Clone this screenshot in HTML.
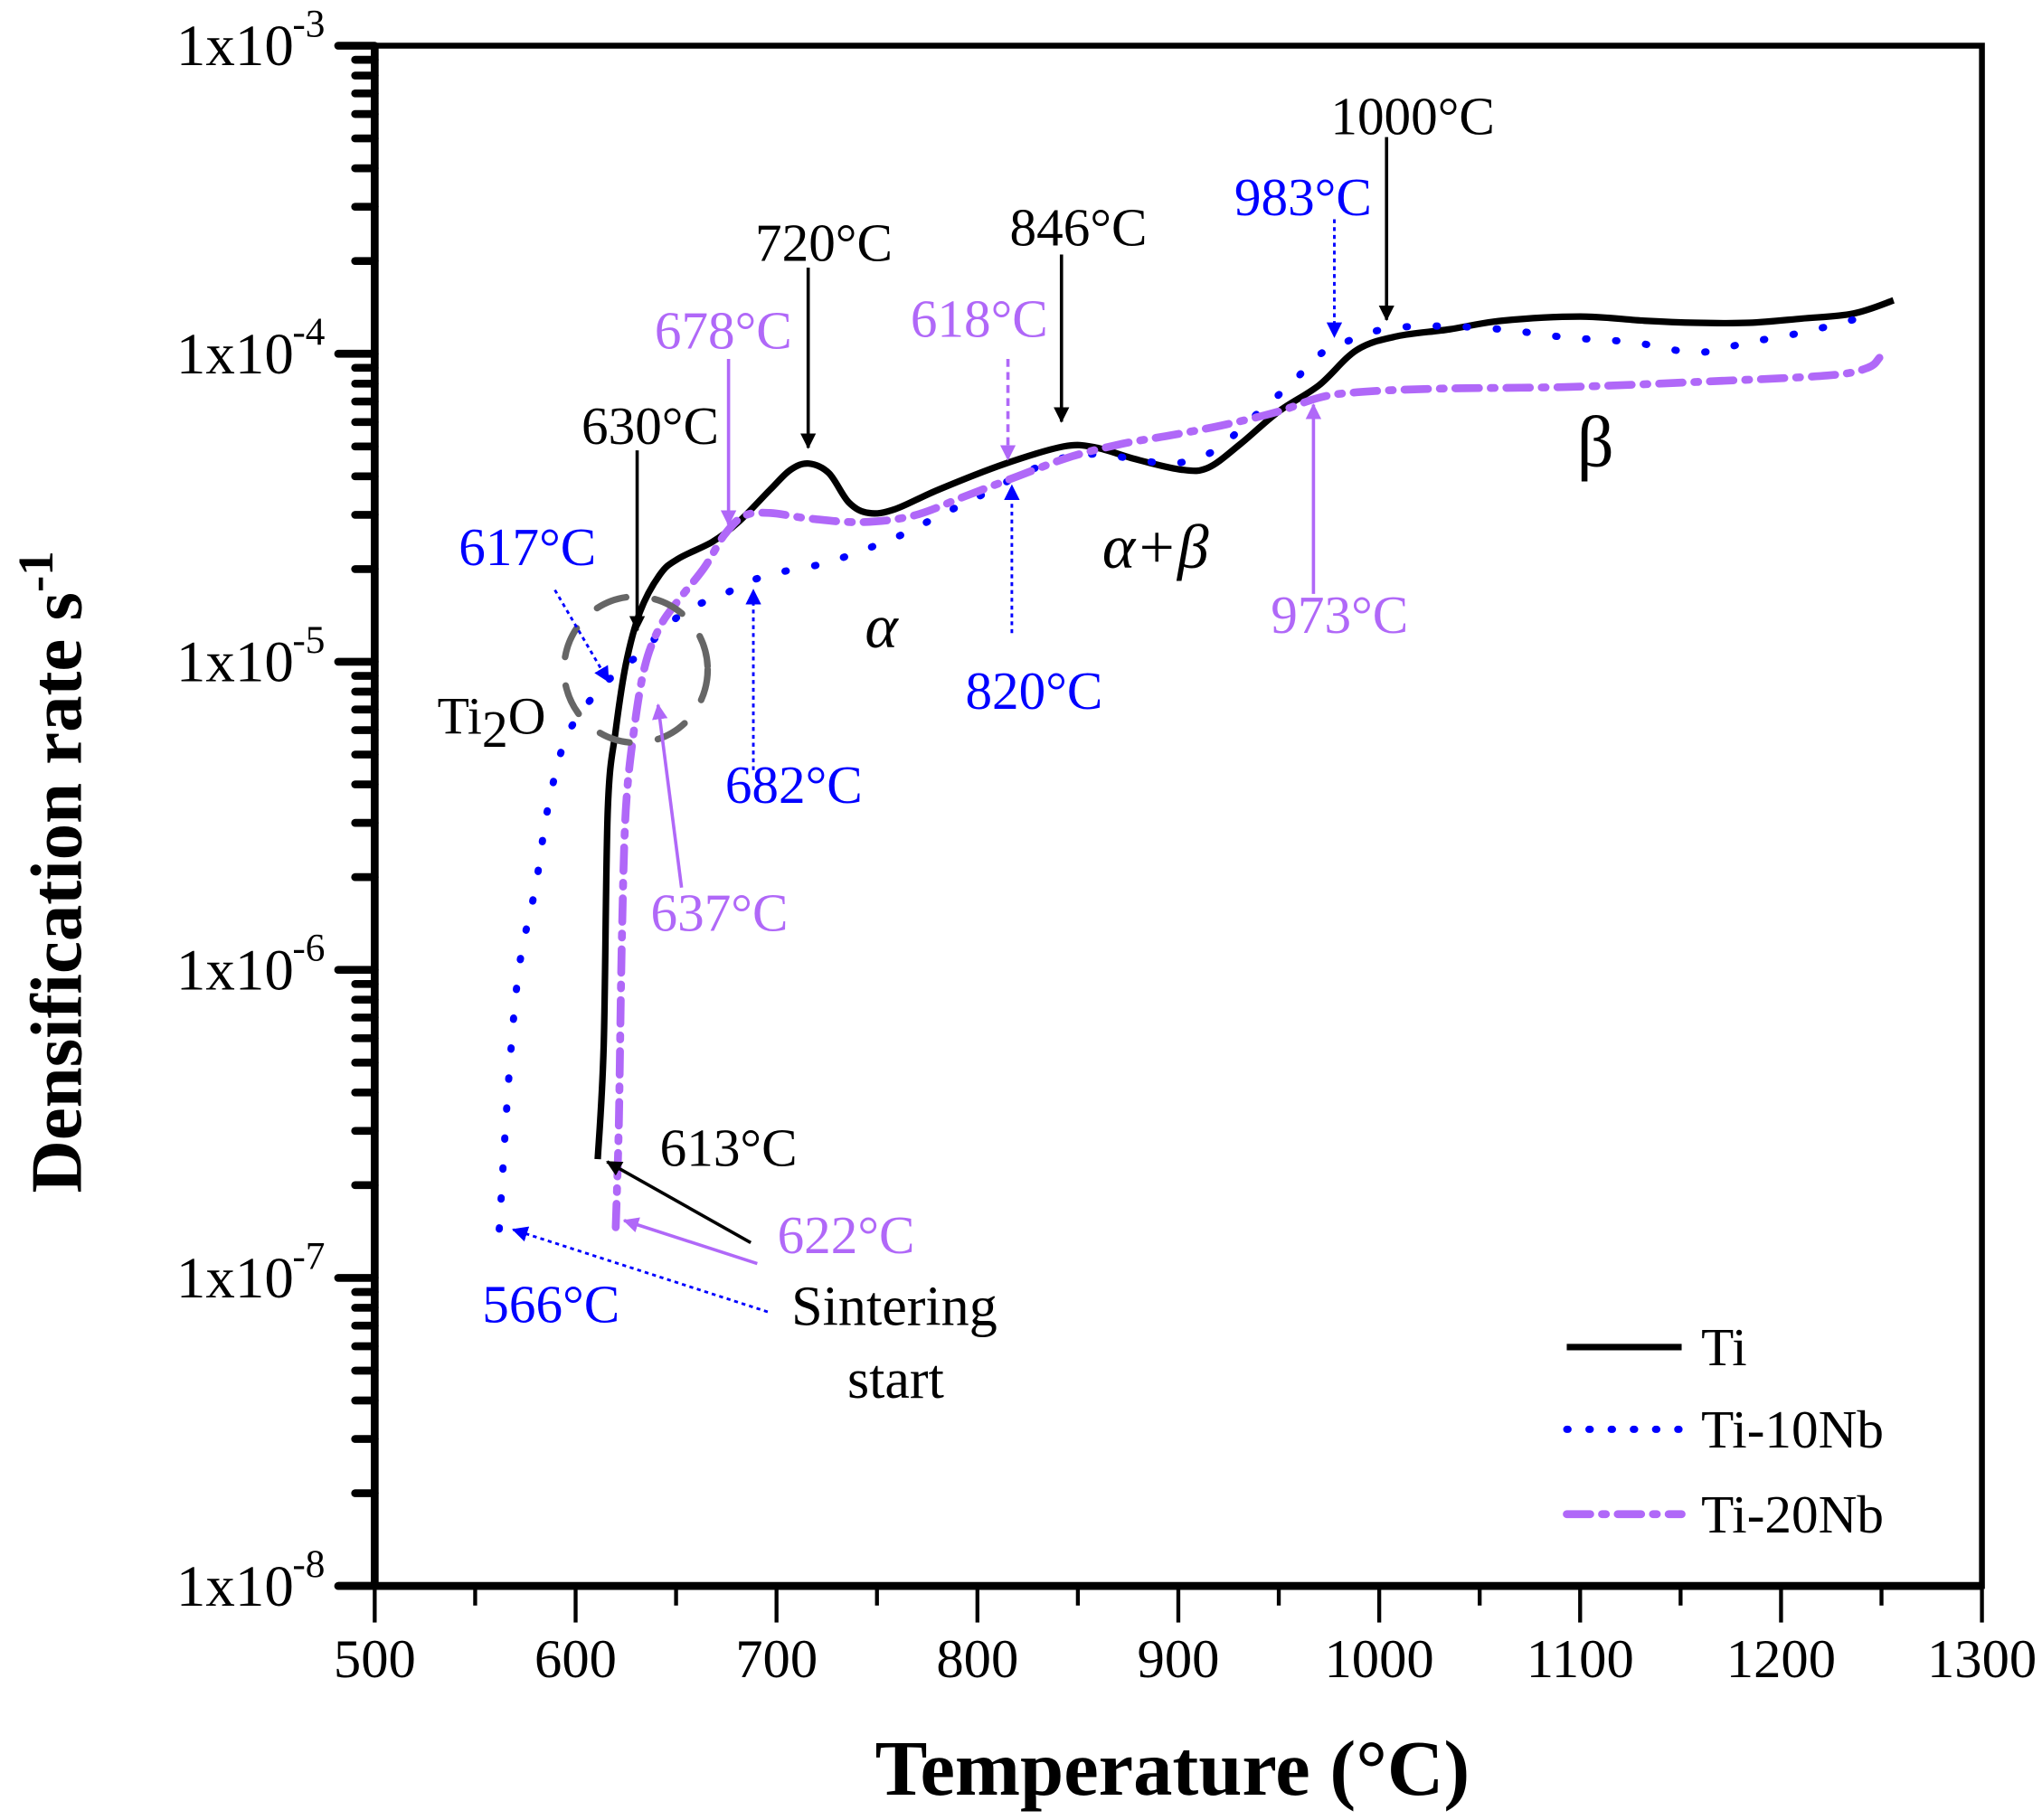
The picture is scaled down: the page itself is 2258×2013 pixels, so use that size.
<!DOCTYPE html>
<html><head><meta charset="utf-8">
<style>
html,body{margin:0;padding:0;background:#fff;}
svg{display:block;}
text{font-family:"Liberation Serif","DejaVu Serif",serif;}
</style></head>
<body>
<svg id="chart" xmlns="http://www.w3.org/2000/svg" width="2258" height="2013" viewBox="0 0 1564 1394.3">
<defs>
<marker id="ahK" markerWidth="12" markerHeight="12" refX="11" refY="6" orient="auto" markerUnits="userSpaceOnUse"><path d="M0,0 L12,6 L0,12 z" fill="#000"/></marker>
<marker id="ahB" markerWidth="12" markerHeight="12" refX="11" refY="6" orient="auto" markerUnits="userSpaceOnUse"><path d="M0,0 L12,6 L0,12 z" fill="#0000ff"/></marker>
<marker id="ahP" markerWidth="12" markerHeight="12" refX="11" refY="6" orient="auto" markerUnits="userSpaceOnUse"><path d="M0,0 L12,6 L0,12 z" fill="#b068f8"/></marker>
</defs>
<g id="axes"></g>
<g id="series"></g>
<g id="annot">
<ellipse cx="487" cy="513" rx="55" ry="56" fill="none" stroke="#666" stroke-width="5" stroke-dasharray="24 22" stroke-linecap="round"/>
<text x="335" y="562" font-size="40">Ti<tspan dy="10">2</tspan><tspan dy="-10">O</tspan></text>
</g>
<g id="legend"></g>
</svg>
<script>
const NS='http://www.w3.org/2000/svg';
const tempTicks=[500,600,700,800,900,1000,1100,1200,1300];
const yExps=[-3,-4,-5,-6,-7,-8];
const tiT=[611,614,616,620,625,632,642,651,668,681,697,707,716,726,736,746,759,781,814,843,859,879,902,915,931,950,970,989,1009,1035,1061,1100,1132,1158,1184,1210,1236,1256];
const tiR=[2.43e-7,5.7e-7,3.3e-6,6.0e-6,9.8e-6,1.45e-5,1.92e-5,2.16e-5,2.45e-5,2.84e-5,3.63e-5,4.2e-5,4.4e-5,4.1e-5,3.29e-5,3.04e-5,3.13e-5,3.63e-5,4.4e-5,5.0e-5,4.96e-5,4.54e-5,4.2e-5,4.27e-5,5.1e-5,6.5e-5,7.9e-5,1.03e-4,1.14e-4,1.2e-4,1.28e-4,1.32e-4,1.28e-4,1.26e-4,1.26e-4,1.3e-4,1.35e-4,1.49e-4];
const nb10T=[562,567,572,580,586,594,603,614,624,633,645,658,674,687,703,723,742,762,781,801,820,840,859,879,898,918,937,957,970,983,1002,1028,1061,1093,1126,1158,1184,1210,1236,1249];
const nb10R=[1.44e-7,4.7e-7,1.03e-6,1.85e-6,3.3e-6,5.4e-6,6.9e-6,8.4e-6,9.7e-6,1.07e-5,1.3e-5,1.5e-5,1.66e-5,1.83e-5,1.96e-5,2.08e-5,2.29e-5,2.58e-5,2.98e-5,3.45e-5,4.0e-5,4.54e-5,4.72e-5,4.54e-5,4.4e-5,4.85e-5,6.2e-5,8.1e-5,9.9e-5,1.09e-4,1.2e-4,1.23e-4,1.2e-4,1.13e-4,1.09e-4,1.01e-4,1.09e-4,1.17e-4,1.29e-4,1.38e-4];
const nb20T=[620,621.5,623,625,629,634.5,642,651,664,674,684,697,716,742,768,794,820,846,872,898,924,950,970,989,1028,1093,1158,1223,1243,1249];
const nb20R=[1.46e-7,3.2e-7,1.26e-6,3.3e-6,5.96e-6,9.7e-6,1.3e-5,1.58e-5,2.02e-5,2.58e-5,2.98e-5,3.04e-5,2.92e-5,2.84e-5,2.98e-5,3.45e-5,4.0e-5,4.62e-5,5.1e-5,5.46e-5,5.9e-5,6.5e-5,7.2e-5,7.5e-5,7.7e-5,7.8e-5,8.1e-5,8.5e-5,9.0e-5,9.7e-5];

const X0=287,X1=1518,Y0=35,Y1=1215;
function xs(t){return X0+(t-500)/800*(X1-X0);}
function ys(r){return Y0+(-3-Math.log10(r))/5*(Y1-Y0);}
function mk(tag,attrs,parent){const e=document.createElementNS(NS,tag);for(const k in attrs)e.setAttribute(k,attrs[k]);parent.appendChild(e);return e;}

const axes=document.getElementById('axes');
let fr=mk('rect',{x:X0,y:Y0,width:X1-X0,height:Y1-Y0,fill:'none',stroke:'#000','stroke-width':4.5},axes);


let bl=mk('line',{x1:X0-28,y1:Y1,x2:X1,y2:Y1,stroke:'#000','stroke-width':6},axes);


let ll=mk('line',{x1:X0,y1:Y0,x2:X0,y2:Y1,stroke:'#000','stroke-width':6},axes);


for(let t=500;t<=1300;t+=50){
  const major=(t%100===0);
  let l=mk('line',{x1:xs(t),y1:Y1,x2:xs(t),y2:Y1+(major?28:15),stroke:'#000','stroke-width':3},axes);
  
  
}
tempTicks.forEach(t=>{
  let tx=mk('text',{x:xs(t),y:Y1+70,'font-size':42,'text-anchor':'middle'},axes);
  tx.textContent=t;
  
  
});
yExps.forEach(e=>{
  const y=ys(Math.pow(10,e));
  let l=mk('line',{x1:X0-28,y1:y,x2:X0,y2:y,stroke:'#000','stroke-width':6,'stroke-linecap':'round'},axes);
  
  
  let tx=mk('text',{x:X0-62,y:y+15,'font-size':45,'text-anchor':'end'},axes);
  tx.textContent='1x10';
  
  
  let sp=mk('text',{x:X0-63,y:y-7,'font-size':30,'text-anchor':'start'},axes);
  sp.textContent=String(e);
  
  
  if(e>-8){for(let k=2;k<=9;k++){
    const ym=ys(k*Math.pow(10,e-1));
    let m=mk('line',{x1:X0-15,y1:ym,x2:X0,y2:ym,stroke:'#000','stroke-width':6,'stroke-linecap':'round'},axes);
    
    
  }}
});
let xt=mk('text',{x:898,y:1375,'font-size':60,'font-weight':'bold','text-anchor':'middle'},axes);
xt.textContent='Temperature (°C)';


let yt=mk('text',{x:0,y:0,'font-size':56,'font-weight':'bold','text-anchor':'middle',transform:'translate(62,668) rotate(-90)'},axes);
yt.innerHTML='Densification rate s<tspan font-size="38" dy="-22">-1</tspan>';



const ser=document.getElementById('series');
function path(T,R){
  const p=T.map((t,i)=>[xs(t),ys(R[i])]);
  let d='M'+p[0][0].toFixed(1)+','+p[0][1].toFixed(1);
  for(let i=0;i<p.length-1;i++){
    const p0=p[Math.max(0,i-1)],p1=p[i],p2=p[i+1],p3=p[Math.min(p.length-1,i+2)];
    const c1=[p1[0]+(p2[0]-p0[0])/6,p1[1]+(p2[1]-p0[1])/6];
    const c2=[p2[0]-(p3[0]-p1[0])/6,p2[1]-(p3[1]-p1[1])/6];
    d+=' C'+c1[0].toFixed(1)+','+c1[1].toFixed(1)+' '+c2[0].toFixed(1)+','+c2[1].toFixed(1)+' '+p2[0].toFixed(1)+','+p2[1].toFixed(1);
  }
  return d;
}
let p1=mk('path',{d:path(tiT,tiR),fill:'none',stroke:'#000','stroke-width':5,'stroke-linejoin':'round'},ser);


let p2=mk('path',{d:path(nb10T,nb10R),fill:'none',stroke:'#0000ff','stroke-width':5.5,'stroke-dasharray':'1 22','stroke-linecap':'round'},ser);


let p3=mk('path',{d:path(nb20T,nb20R),fill:'none',stroke:'#b068f8','stroke-width':6,'stroke-dasharray':'18 9 3 9','stroke-linecap':'round'},ser);



const an=document.getElementById('annot');
const K='#000',B='#0000ff',P='#b068f8';
const labels=[
 ['1000°C',1082,103,K],['983°C',998,165,B],['846°C',826,188,K],['720°C',631,200,K],
 ['618°C',750,258,P],['678°C',554,267,P],['630°C',498,340,K],['617°C',404,433,B],
 ['682°C',608,615,B],['820°C',792,543,B],['973°C',1026,485,P],['637°C',551,713,P],
 ['613°C',558,893,K],['622°C',648,960,P],['566°C',422,1013,B]];
labels.forEach(l=>{
  let t=mk('text',{x:l[1],y:l[2],'font-size':41,'text-anchor':'middle',fill:l[3]},an);
  t.textContent=l[0];
  
  
});
const arrows=[
 [1062,105,1062,245,K,'ahK',2.5,''],[1022,168,1022,258,B,'ahB',2,'3 3'],
 [813,195,813,323,K,'ahK',2.5,''],[619,205,619,343,K,'ahK',2.5,''],
 [772,275,772,352,P,'ahP',2.5,'6 4'],[558,275,558,402,P,'ahP',2.5,''],
 [488,345,488,483,K,'ahK',2.5,''],[425,452,466,522,B,'ahB',2,'3 3'],
 [577,590,577,452,B,'ahB',2,'3 3'],[775,485,775,372,B,'ahB',2,'3 3'],
 [1006,455,1006,310,P,'ahP',2.5,''],[522,680,504,540,P,'ahP',2.5,''],
 [575,952,465,890,K,'ahK',2.5,''],[580,968,478,935,P,'ahP',2.5,''],
 [588,1005,393,942,B,'ahB',2,'3 3']];
arrows.forEach(a=>{
  let l=mk('line',{x1:a[0],y1:a[1],x2:a[2],y2:a[3],stroke:a[4],'stroke-width':a[6],'marker-end':'url(#'+a[5]+')'},an);
  if(a[7])l.setAttribute('stroke-dasharray',a[7]);
  
  
});
const extra=[['Sintering',685,1015,43,'normal'],['start',686,1071,43,'normal'],['α',675,496,48,'italic'],['α+β',885,435,48,'italic'],['β',1222,357,56,'normal']];
extra.forEach(e=>{
  let t=mk('text',{x:e[1],y:e[2],'font-size':e[3],'text-anchor':'middle','font-style':e[4]},an);
  t.textContent=e[0];
  
  
});

const lg=document.getElementById('legend');
const leg=[['Ti',1032,K,'',5,'butt'],['Ti-10Nb',1095,B,'1 16',5.5,'round'],['Ti-20Nb',1160,P,'18 9 3 9',6,'round']];
leg.forEach(e=>{
  let l=mk('line',{x1:1200,y1:e[1],x2:1288,y2:e[1],stroke:e[2],'stroke-width':e[4],'stroke-linecap':e[5]},lg);
  if(e[3])l.setAttribute('stroke-dasharray',e[3]);
  
  
  let t=mk('text',{x:1303,y:e[1]+14,'font-size':41},lg);
  t.textContent=e[0];
  
  
});
</script>
</body></html>
